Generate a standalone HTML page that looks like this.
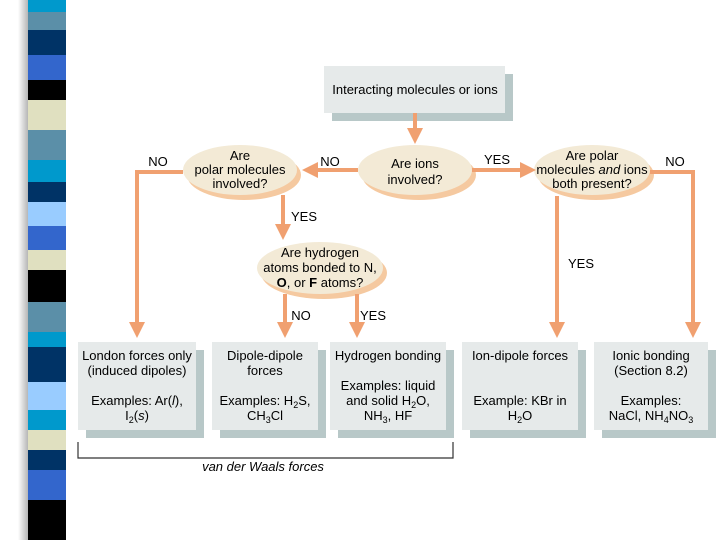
<!DOCTYPE html>
<html><head><style>
body{margin:0;width:720px;height:540px;background:#fff;position:relative;overflow:hidden;font-family:"Liberation Sans",sans-serif;}
.s{position:absolute;left:28px;width:38px}
.t{font-size:13px;color:#222;text-anchor:middle}
</style></head><body>
<div style="position:absolute;left:18px;top:0;width:14px;height:540px;background:linear-gradient(90deg,#fff,#999)"></div>
<div class="s" style="top:0;height:12px;background:#0099cc"></div>
<div class="s" style="top:12px;height:18px;background:#5b8fa8"></div>
<div class="s" style="top:30px;height:25px;background:#003366"></div>
<div class="s" style="top:55px;height:25px;background:#3366cc"></div>
<div class="s" style="top:80px;height:20px;background:#000"></div>
<div class="s" style="top:100px;height:30px;background:#e0e0c0"></div>
<div class="s" style="top:130px;height:30px;background:#5b8fa8"></div>
<div class="s" style="top:160px;height:22px;background:#0099cc"></div>
<div class="s" style="top:182px;height:20px;background:#003366"></div>
<div class="s" style="top:202px;height:24px;background:#99ccff"></div>
<div class="s" style="top:226px;height:24px;background:#3366cc"></div>
<div class="s" style="top:250px;height:20px;background:#e0e0c0"></div>
<div class="s" style="top:270px;height:32px;background:#000"></div>
<div class="s" style="top:302px;height:30px;background:#5b8fa8"></div>
<div class="s" style="top:332px;height:15px;background:#0099cc"></div>
<div class="s" style="top:347px;height:35px;background:#003366"></div>
<div class="s" style="top:382px;height:28px;background:#99ccff"></div>
<div class="s" style="top:410px;height:20px;background:#0099cc"></div>
<div class="s" style="top:430px;height:20px;background:#e0e0c0"></div>
<div class="s" style="top:450px;height:20px;background:#003366"></div>
<div class="s" style="top:470px;height:30px;background:#3366cc"></div>
<div class="s" style="top:500px;height:40px;background:#000"></div>
<svg width="720" height="540" style="position:absolute;left:0;top:0">
<defs><marker id="a" markerWidth="4" markerHeight="4" refX="2" refY="2" orient="auto"><path d="M0,0L4,2L0,4z" fill="#f0a070"/></marker></defs>
<g fill="#b8c8c8">
<rect x="332" y="74" width="181" height="47"/>
<rect x="86" y="350" width="118" height="88"/><rect x="220" y="350" width="106" height="88"/>
<rect x="338" y="350" width="116" height="88"/><rect x="470" y="350" width="116" height="88"/><rect x="602" y="350" width="114" height="88"/>
</g>
<g fill="#e6eaea">
<rect x="324" y="66" width="181" height="47"/>
<rect x="78" y="342" width="118" height="88"/><rect x="212" y="342" width="106" height="88"/>
<rect x="330" y="342" width="116" height="88"/><rect x="462" y="342" width="116" height="88"/><rect x="594" y="342" width="114" height="88"/>
</g>
<g fill="#f5c9a0"><ellipse cx="244" cy="175" rx="57" ry="25"/><ellipse cx="419" cy="175" rx="57" ry="25"/><ellipse cx="596" cy="175" rx="58" ry="25"/><ellipse cx="324" cy="273" rx="63" ry="26"/></g>
<g fill="#f3ead6"><ellipse cx="240" cy="170" rx="57" ry="25"/><ellipse cx="415" cy="170" rx="57" ry="25"/><ellipse cx="592" cy="170" rx="58" ry="25"/><ellipse cx="320" cy="268" rx="63" ry="26"/></g>
<g stroke="#f0a070" stroke-width="4" fill="none" marker-end="url(#a)">
<path d="M415 113V136"/><path d="M358 170H310"/><path d="M183 172H137V330"/>
<path d="M283 195V232"/><path d="M285 294V330"/><path d="M357 294V330"/>
<path d="M472 170H528"/><path d="M650 172H693V330"/><path d="M557 196V330"/>
</g>
<path d="M78 442V458H453V442" stroke="#333" fill="none" stroke-width="1.2"/>
<g class="t">
<text x="415" y="94">Interacting molecules or ions</text>
<text x="240" y="160">Are</text><text x="240" y="174">polar molecules</text><text x="240" y="188">involved?</text>
<text x="415" y="168">Are ions</text><text x="415" y="184">involved?</text>
<text x="592" y="160">Are polar</text><text x="592" y="174">molecules <tspan font-style="italic">and</tspan> ions</text><text x="592" y="188">both present?</text>
<text x="320" y="257">Are hydrogen</text><text x="320" y="272">atoms bonded to N,</text><text x="320" y="287"><tspan font-weight="bold">O</tspan>, or <tspan font-weight="bold">F</tspan> atoms?</text>
<text x="158" y="166">NO</text><text x="330" y="166">NO</text><text x="497" y="164">YES</text><text x="675" y="166">NO</text>
<text x="304" y="221">YES</text><text x="301" y="320">NO</text><text x="373" y="320">YES</text><text x="581" y="268">YES</text>
<text x="137" y="360">London forces only</text><text x="137" y="375">(induced dipoles)</text><text x="137" y="405">Examples: Ar(<tspan font-style="italic">l</tspan>),</text><text x="137" y="420">I<tspan font-size="9" dy="3">2</tspan><tspan dy="-3">(<tspan font-style="italic">s</tspan>)</tspan></text>
<text x="265" y="360">Dipole-dipole</text><text x="265" y="375">forces</text><text x="265" y="405">Examples: H<tspan font-size="9" dy="3">2</tspan><tspan dy="-3">S,</tspan></text><text x="265" y="420">CH<tspan font-size="9" dy="3">3</tspan><tspan dy="-3">Cl</tspan></text>
<text x="388" y="360">Hydrogen bonding</text><text x="388" y="390">Examples: liquid</text><text x="388" y="405">and solid H<tspan font-size="9" dy="3">2</tspan><tspan dy="-3">O,</tspan></text><text x="388" y="420">NH<tspan font-size="9" dy="3">3</tspan><tspan dy="-3">, HF</tspan></text>
<text x="520" y="360">Ion-dipole forces</text><text x="520" y="405">Example: KBr in</text><text x="520" y="420">H<tspan font-size="9" dy="3">2</tspan><tspan dy="-3">O</tspan></text>
<text x="651" y="360">Ionic bonding</text><text x="651" y="375">(Section 8.2)</text><text x="651" y="405">Examples:</text><text x="651" y="420">NaCl, NH<tspan font-size="9" dy="3">4</tspan><tspan dy="-3">NO</tspan><tspan font-size="9" dy="3">3</tspan></text>
<text x="263" y="471" font-style="italic">van der Waals forces</text>
</g>
</svg>
</body></html>
